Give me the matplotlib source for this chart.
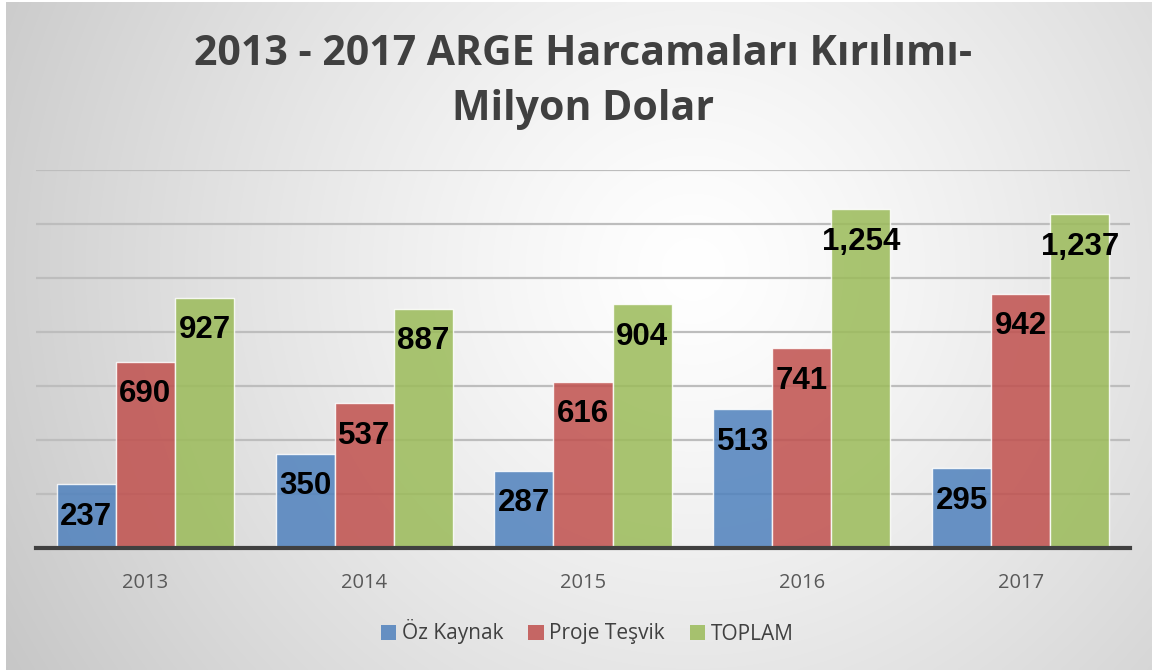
import matplotlib
matplotlib.use("Agg")
import matplotlib.pyplot as plt
import numpy as np
from matplotlib.patches import Patch

# Data (million USD)
years = ["2013", "2014", "2015", "2016", "2017"]
oz_kaynak = [237, 350, 287, 513, 295]
proje_tesvik = [690, 537, 616, 741, 942]
toplam = [927, 887, 904, 1254, 1237]
series_names = ["Öz Kaynak", "Proje Teşvik", "TOPLAM"]
series_colors = ["#4F81BD", "#C0504D", "#9BBB59"]
title = "2013 - 2017 ARGE Harcamaları Kırılımı-\nMilyon Dolar"

W, H = 1155, 672
fig = plt.figure(figsize=(W / 100, H / 100), dpi=100, facecolor="white")

# Radial gradient background of the chart area
bg = fig.add_axes([6 / W, 2 / H, 1 - 9 / W, 1 - 4 / H], zorder=0)
yy, xx = np.mgrid[0:1:300j, 0:1:500j]
d = np.sqrt(((xx - 0.6) * 1.7) ** 2 + (yy - 0.4) ** 2)
shade = 1.0 - 0.22 * np.clip(d / d.max(), 0, 1) ** 1.25
bg.imshow(np.dstack([shade] * 3), aspect="auto", extent=[0, 1, 1, 0], interpolation="bilinear")
bg.set_axis_off()

# Main axes
ax = fig.add_axes([36 / W, 1 - 548 / H, (1130 - 36) / W, (548 - 170) / H], zorder=1)
ax.set_facecolor("none")

x = np.arange(len(years))
width = 0.27
all_series = [oz_kaynak, proje_tesvik, toplam]
for i, (vals, col) in enumerate(zip(all_series, series_colors)):
    bars = ax.bar(x + (i - 1) * width, vals, width, color=col, alpha=0.85,
                  edgecolor=(1, 1, 1, 0.6), linewidth=1.0, zorder=3)
    for b, v in zip(bars, vals):
        ax.annotate(f"{v:,}", (b.get_x() + b.get_width() / 2, b.get_height()),
                    xytext=(0, -23.5), textcoords="offset points",
                    ha="center", va="center", fontsize=22.5, fontweight="bold",
                    family="Liberation Sans", color="black", zorder=4)

ax.set_xlim(-0.5, len(years) - 0.5)
ax.set_ylim(0, 1400)
ax.set_yticks(np.arange(200, 1401, 200))
ax.yaxis.grid(True, color="#bdbdbd", linewidth=1.6, zorder=1)
ax.tick_params(axis="y", left=False, labelleft=False)
ax.set_xticks(x)
ax.set_xticklabels(years, family="Open Sans", fontsize=14.5, color="#595959")
ax.tick_params(axis="x", length=0, pad=18)
for s in ["top", "right", "left"]:
    ax.spines[s].set_visible(False)
ax.spines["bottom"].set_color("#404040")
ax.spines["bottom"].set_linewidth(3)
ax.spines["bottom"].set_zorder(5)

fig.text(583 / W, 1 - 82 / H, title, ha="center", va="center", fontsize=29.5,
         fontweight="bold", family="Open Sans", color="#404040", linespacing=1.48)

handles = [Patch(facecolor=c, alpha=0.85, edgecolor="none") for c in series_colors]
fig.legend(handles, series_names, loc="center", bbox_to_anchor=(587 / W, 1 - 632 / H),
           ncol=3, frameon=False, prop={"family": "Open Sans", "size": 15},
           labelcolor="#404040", handlelength=0.75, handleheight=0.75,
           handletextpad=0.25, columnspacing=1.2)

fig.savefig("out.png", dpi=100, facecolor="white")
